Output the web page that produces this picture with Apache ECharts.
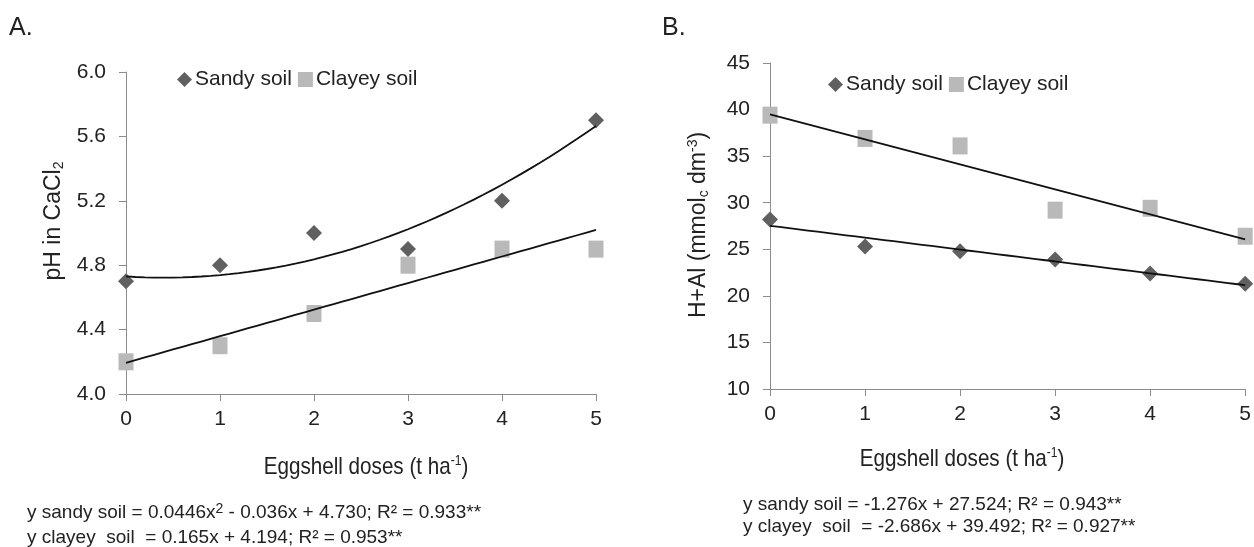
<!DOCTYPE html>
<html>
<head>
<meta charset="utf-8">
<script src="https://cdn.jsdelivr.net/npm/echarts@6/dist/echarts.min.js"></script>
<style>
  html, body { margin: 0; padding: 0; background: #fff; }
  #main { width: 1254px; height: 547px; }
</style>
</head>
<body>
<div id="main"></div>
<script>
// doses (t ha-1)
var doses = [0, 1, 2, 3, 4, 5];

// A. pH in CaCl2
var phSandy = [4.7, 4.8, 5.0, 4.9, 5.2, 5.7];
var phClayey = [4.2, 4.3, 4.5, 4.8, 4.9, 4.9];
// fitted equations printed under the chart (c0, c1, c2)
var phSandyFit = [4.730, -0.036, 0.0446];
var phClayeyFit = [4.194, 0.165, 0];

// B. H+Al (mmolc dm-3)
var halSandy = [28.2, 25.3, 24.8, 23.9, 22.4, 21.3];
var halClayey = [39.4, 36.9, 36.1, 29.2, 29.4, 26.4];
var halSandyFit = [27.524, -1.276, 0];
var halClayeyFit = [39.492, -2.686, 0];

var legendNames = ['Sandy soil', 'Clayey soil'];

var FONT = "'Liberation Sans', Arial, sans-serif";
var txt = '#222';
var axisGray = '#8c8c8c';
var darkMark = '#606060';
var lightMark = '#b9b9b9';

function pts(ys) {
  return doses.map(function (d, i) { return [d, ys[i]]; });
}
// trend line from the printed coefficients
function fitLine(c) {
  var out = [];
  for (var i = 0; i <= 50; i++) {
    var x = i / 10;
    out.push([x, c[0] + c[1] * x + c[2] * x * x]);
  }
  return out;
}

function xAxisOpt(gi) {
  return {
    type: 'value', gridIndex: gi, min: 0, max: 5, interval: 1,
    axisLine: { show: true, lineStyle: { color: axisGray, width: 1 } },
    axisTick: { show: true, length: 7, lineStyle: { color: axisGray } },
    axisLabel: { margin: 15, fontFamily: FONT, fontSize: 21, color: txt },
    splitLine: { show: false }
  };
}
function yAxisOpt(gi, min, max, step, dec) {
  return {
    type: 'value', gridIndex: gi, min: min, max: max, interval: step,
    axisLine: { show: true, lineStyle: { color: axisGray, width: 1 } },
    axisTick: { show: true, length: 7, lineStyle: { color: axisGray } },
    axisLabel: {
      margin: 20, fontFamily: FONT, fontSize: 21, color: txt,
      formatter: function (v) { return v.toFixed(dec); }
    },
    splitLine: { show: false }
  };
}

function scatter(name, gi, data, sym, size, color) {
  return {
    name: name, type: 'scatter', xAxisIndex: gi, yAxisIndex: gi,
    symbol: sym, symbolSize: size, data: data, z: 2,
    itemStyle: { color: color, opacity: 1 }
  };
}
function trend(gi, data) {
  return {
    name: 'fit', type: 'line', xAxisIndex: gi, yAxisIndex: gi,
    data: data, showSymbol: false, symbol: 'none', z: 3, silent: true,
    lineStyle: { color: '#111', width: 1.8 }
  };
}

function legendOpt(left, top) {
  return {
    left: left, top: top, itemWidth: 15, itemHeight: 15, itemGap: 6,
    selectedMode: false,
    textStyle: { fontFamily: FONT, fontSize: 21, color: txt, padding: [0, 0, 0, -2] },
    data: [
      { name: legendNames[0], icon: 'diamond', itemStyle: { color: darkMark } },
      { name: legendNames[1], icon: 'rect', itemStyle: { color: lightMark } }
    ]
  };
}

var rich = {
  sup: { fontFamily: FONT, fontSize: 14, lineHeight: 14, verticalAlign: 'top', fill: txt },
  sub: { fontFamily: FONT, fontSize: 14, lineHeight: 14, verticalAlign: 'bottom', fill: txt }
};

function label(x, y, text, size, align, sx) {
  return {
    type: 'text', x: x, y: y, scaleX: sx || 1,
    style: {
      text: text, x: 0, y: 0, fill: txt,
      font: size + 'px ' + FONT,
      align: align, textAlign: align,
      verticalAlign: 'middle', textVerticalAlign: 'middle',
      lineHeight: size + 2,
      rich: rich
    }
  };
}
function vlabel(x, y, text) {
  var g = label(x, y, text, 23, 'center');
  g.rotation = Math.PI / 2;
  return g;
}

var chart = echarts.init(document.getElementById('main'));
chart.setOption({
  animation: false,
  backgroundColor: '#fff',
  grid: [
    { left: 126, top: 72, width: 470, height: 322 },
    { left: 770, top: 63, width: 478, height: 326 }
  ],
  xAxis: [xAxisOpt(0), xAxisOpt(1)],
  yAxis: [yAxisOpt(0, 4, 6, 0.4, 1), yAxisOpt(1, 10, 45, 5, 0)],
  legend: [legendOpt(172, 64), legendOpt(823, 69)],
  series: [
    scatter(legendNames[0], 0, pts(phSandy), 'diamond', [16, 16], darkMark),
    scatter(legendNames[1], 0, pts(phClayey), 'rect', [15, 17], lightMark),
    trend(0, fitLine(phSandyFit)),
    trend(0, fitLine(phClayeyFit)),
    scatter(legendNames[0], 1, pts(halSandy), 'diamond', [16, 16], darkMark),
    scatter(legendNames[1], 1, pts(halClayey), 'rect', [15, 17], lightMark),
    trend(1, fitLine(halSandyFit)),
    trend(1, fitLine(halClayeyFit))
  ],
  graphic: [
    label(9, 28, 'A.', 25, 'left'),
    label(662, 28, 'B.', 25, 'left'),
    vlabel(54, 221, 'pH in CaCl{sub|2}'),
    vlabel(699, 225, 'H+Al (mmol{sub|c} dm{sup|-3})'),
    label(366, 467, 'Eggshell doses (t ha{sup|-1})', 24, 'center', 0.86),
    label(962, 459, 'Eggshell doses (t ha{sup|-1})', 24, 'center', 0.86),
    label(27, 513, 'y sandy soil = 0.0446x{sup|2} - 0.036x + 4.730; R\u00b2 = 0.933**', 19, 'left'),
    label(27, 538, 'y clayey  soil  = 0.165x + 4.194; R\u00b2 = 0.953**', 19, 'left'),
    label(743, 505, 'y sandy soil = -1.276x + 27.524; R\u00b2 = 0.943**', 19, 'left'),
    label(743, 527, 'y clayey  soil  = -2.686x + 39.492; R\u00b2 = 0.927**', 19, 'left')
  ]
});
</script>
</body>
</html>
